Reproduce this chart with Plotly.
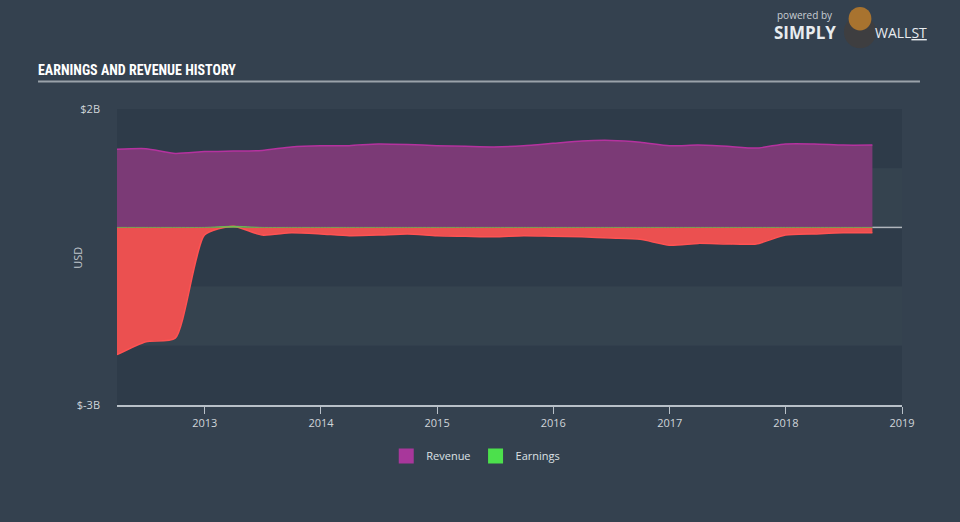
import plotly.graph_objects as go

dates = ["2012-03-31", "2012-06-30", "2012-09-30", "2012-12-31",
         "2013-03-31", "2013-06-30", "2013-09-30", "2013-12-31",
         "2014-03-31", "2014-06-30", "2014-09-30", "2014-12-31",
         "2015-03-31", "2015-06-30", "2015-09-30", "2015-12-31",
         "2016-03-31", "2016-06-30", "2016-09-30", "2016-12-31",
         "2017-03-31", "2017-06-30", "2017-09-30", "2017-12-31",
         "2018-03-31", "2018-06-30", "2018-09-30"]

revenue = [1.32, 1.33, 1.25, 1.28, 1.29, 1.30, 1.36, 1.38,
           1.38, 1.41, 1.40, 1.38, 1.37, 1.36, 1.38, 1.42,
           1.46, 1.47, 1.44, 1.38, 1.39, 1.37, 1.34, 1.41,
           1.41, 1.39, 1.39]

earnings = [-2.15, -1.93, -1.87, -0.13, 0.02, -0.13, -0.09, -0.11,
            -0.14, -0.13, -0.11, -0.14, -0.15, -0.16, -0.14, -0.15,
            -0.16, -0.18, -0.20, -0.30, -0.27, -0.28, -0.28, -0.13,
            -0.11, -0.09, -0.09]

y_ticks = [2, -3]
y_tick_labels = ["$2B", "$-3B"]
x_ticks = ["2013-01-01", "2014-01-01", "2015-01-01", "2016-01-01",
           "2017-01-01", "2018-01-01", "2019-01-01"]
x_tick_labels = ["2013", "2014", "2015", "2016", "2017", "2018", "2019"]

BG = "#34414f"
DARK = "#2e3b49"
LIGHT = "#35434f"
FONT = "Open Sans, Roboto, sans-serif"

fig = go.Figure()

fig.add_trace(go.Scatter(
    x=dates, y=revenue, mode="lines", line=dict(color="#b5329f", width=1.5, shape="spline", smoothing=0.6),
    fill="tozeroy", fillcolor="#7b3a76", showlegend=False, hoverinfo="skip"))

fig.add_trace(go.Scatter(
    x=dates, y=earnings, mode="lines", line=dict(color="#ff5252", width=1.5, shape="spline", smoothing=0.6),
    fill="tozeroy", fillcolor="#eb5050", showlegend=False, hoverinfo="skip"))

pos = [max(v, 0) for v in earnings]
fig.add_trace(go.Scatter(
    x=dates, y=pos, mode="lines", line=dict(color="rgba(110,190,80,0.8)", width=1, shape="spline", smoothing=0.6),
    fill="tozeroy", fillcolor="#4ce04c", showlegend=False, hoverinfo="skip"))

fig.add_trace(go.Scatter(x=[None], y=[None], mode="markers", name="Revenue",
                         marker=dict(symbol="square", size=15, color="#a8379b")))
fig.add_trace(go.Scatter(x=[None], y=[None], mode="markers", name="Earnings",
                         marker=dict(symbol="square", size=15, color="#4ce04c")))

shapes = []
bands = [(1, 2, DARK), (0, 1, LIGHT), (-1, 0, DARK), (-2, -1, LIGHT), (-3, -2, DARK)]
for y0, y1, c in bands:
    shapes.append(dict(type="rect", xref="paper", yref="y", x0=0, x1=1, y0=y0, y1=y1,
                       fillcolor=c, line=dict(width=0), layer="below"))
shapes.append(dict(type="line", xref="x", yref="y", x0=dates[-1], x1="2019-01-01", y0=0, y1=0,
                   line=dict(color="#b0b6bc", width=1.5)))
shapes.append(dict(type="line", xref="paper", yref="paper", x0=-0.1006, x1=1.0229, y0=1.0929, y1=1.0929,
                   line=dict(color="#9aa2aa", width=2)))

annotations = [
    dict(text="<b>EARNINGS AND REVENUE HISTORY</b>", xref="paper", yref="paper", x=-0.1035, y=1.098,
         xanchor="left", yanchor="bottom", showarrow=False,
         font=dict(family="Liberation Sans Narrow, Roboto Condensed, DejaVu Sans Condensed, Roboto, sans-serif",
                   size=14, color="#ffffff")),
    dict(text="USD", xref="paper", yref="paper", x=-0.0497, y=0.497, xanchor="center", yanchor="middle",
         textangle=-90, showarrow=False, font=dict(family=FONT, size=11, color="#c0c6cc")),
    dict(text="powered by", xref="paper", yref="paper", x=0.838, y=1.316, xanchor="left", yanchor="middle",
         showarrow=False, font=dict(family=FONT, size=10, color="#c8ced4")),
    dict(text="<b>SIMPLY</b>", xref="paper", yref="paper", x=0.835, y=1.257, xanchor="left", yanchor="middle",
         showarrow=False, font=dict(family=FONT, size=17, color="#e8ecef")),
    dict(text="WALL<u>ST</u>", xref="paper", yref="paper", x=0.963, y=1.257, xanchor="left", yanchor="middle",
         showarrow=False, font=dict(family=FONT, size=14, color="#e8ecef")),
]

shapes.append(dict(type="circle", xref="paper", yref="paper", x0=0.926, x1=0.967, y0=1.205, y1=1.315,
                   fillcolor="#3e3e40", line=dict(width=0)))
shapes.append(dict(type="circle", xref="paper", yref="paper", x0=0.932, x1=0.961, y0=1.265, y1=1.345,
                   fillcolor="#a8732f", line=dict(width=0)))

fig.update_layout(
    width=960, height=522,
    paper_bgcolor=BG, plot_bgcolor=BG,
    margin=dict(l=117, r=58, t=109, b=117),
    font=dict(family=FONT, color="#d0d5da", size=11),
    shapes=shapes, annotations=annotations,
    showlegend=True,
    legend=dict(orientation="h", x=0.457, y=-0.123, xanchor="center", yanchor="top",
                font=dict(family=FONT, size=11, color="#dde1e5"), bgcolor="rgba(0,0,0,0)",
                itemclick=False),
    xaxis=dict(type="date", range=["2012-03-31", "2019-01-01"], tickvals=x_ticks, ticktext=x_tick_labels,
               showgrid=False, zeroline=False, showline=True, linecolor="#b8c0c8", linewidth=1.5,
               ticks="outside", ticklen=7, tickcolor="#b8c0c8", tickfont=dict(size=11, color="#d0d5da")),
    yaxis=dict(range=[-3, 2], tickvals=y_ticks, ticktext=y_tick_labels, showgrid=False, zeroline=False,
               showline=False, ticks="", ticklabelstandoff=16,
               tickfont=dict(size=11, color="#d0d5da")),
)

fig.write_html("out.html", config={"displayModeBar": False},
               post_script="document.body.style.margin='0';document.body.style.background='#34414f';")
